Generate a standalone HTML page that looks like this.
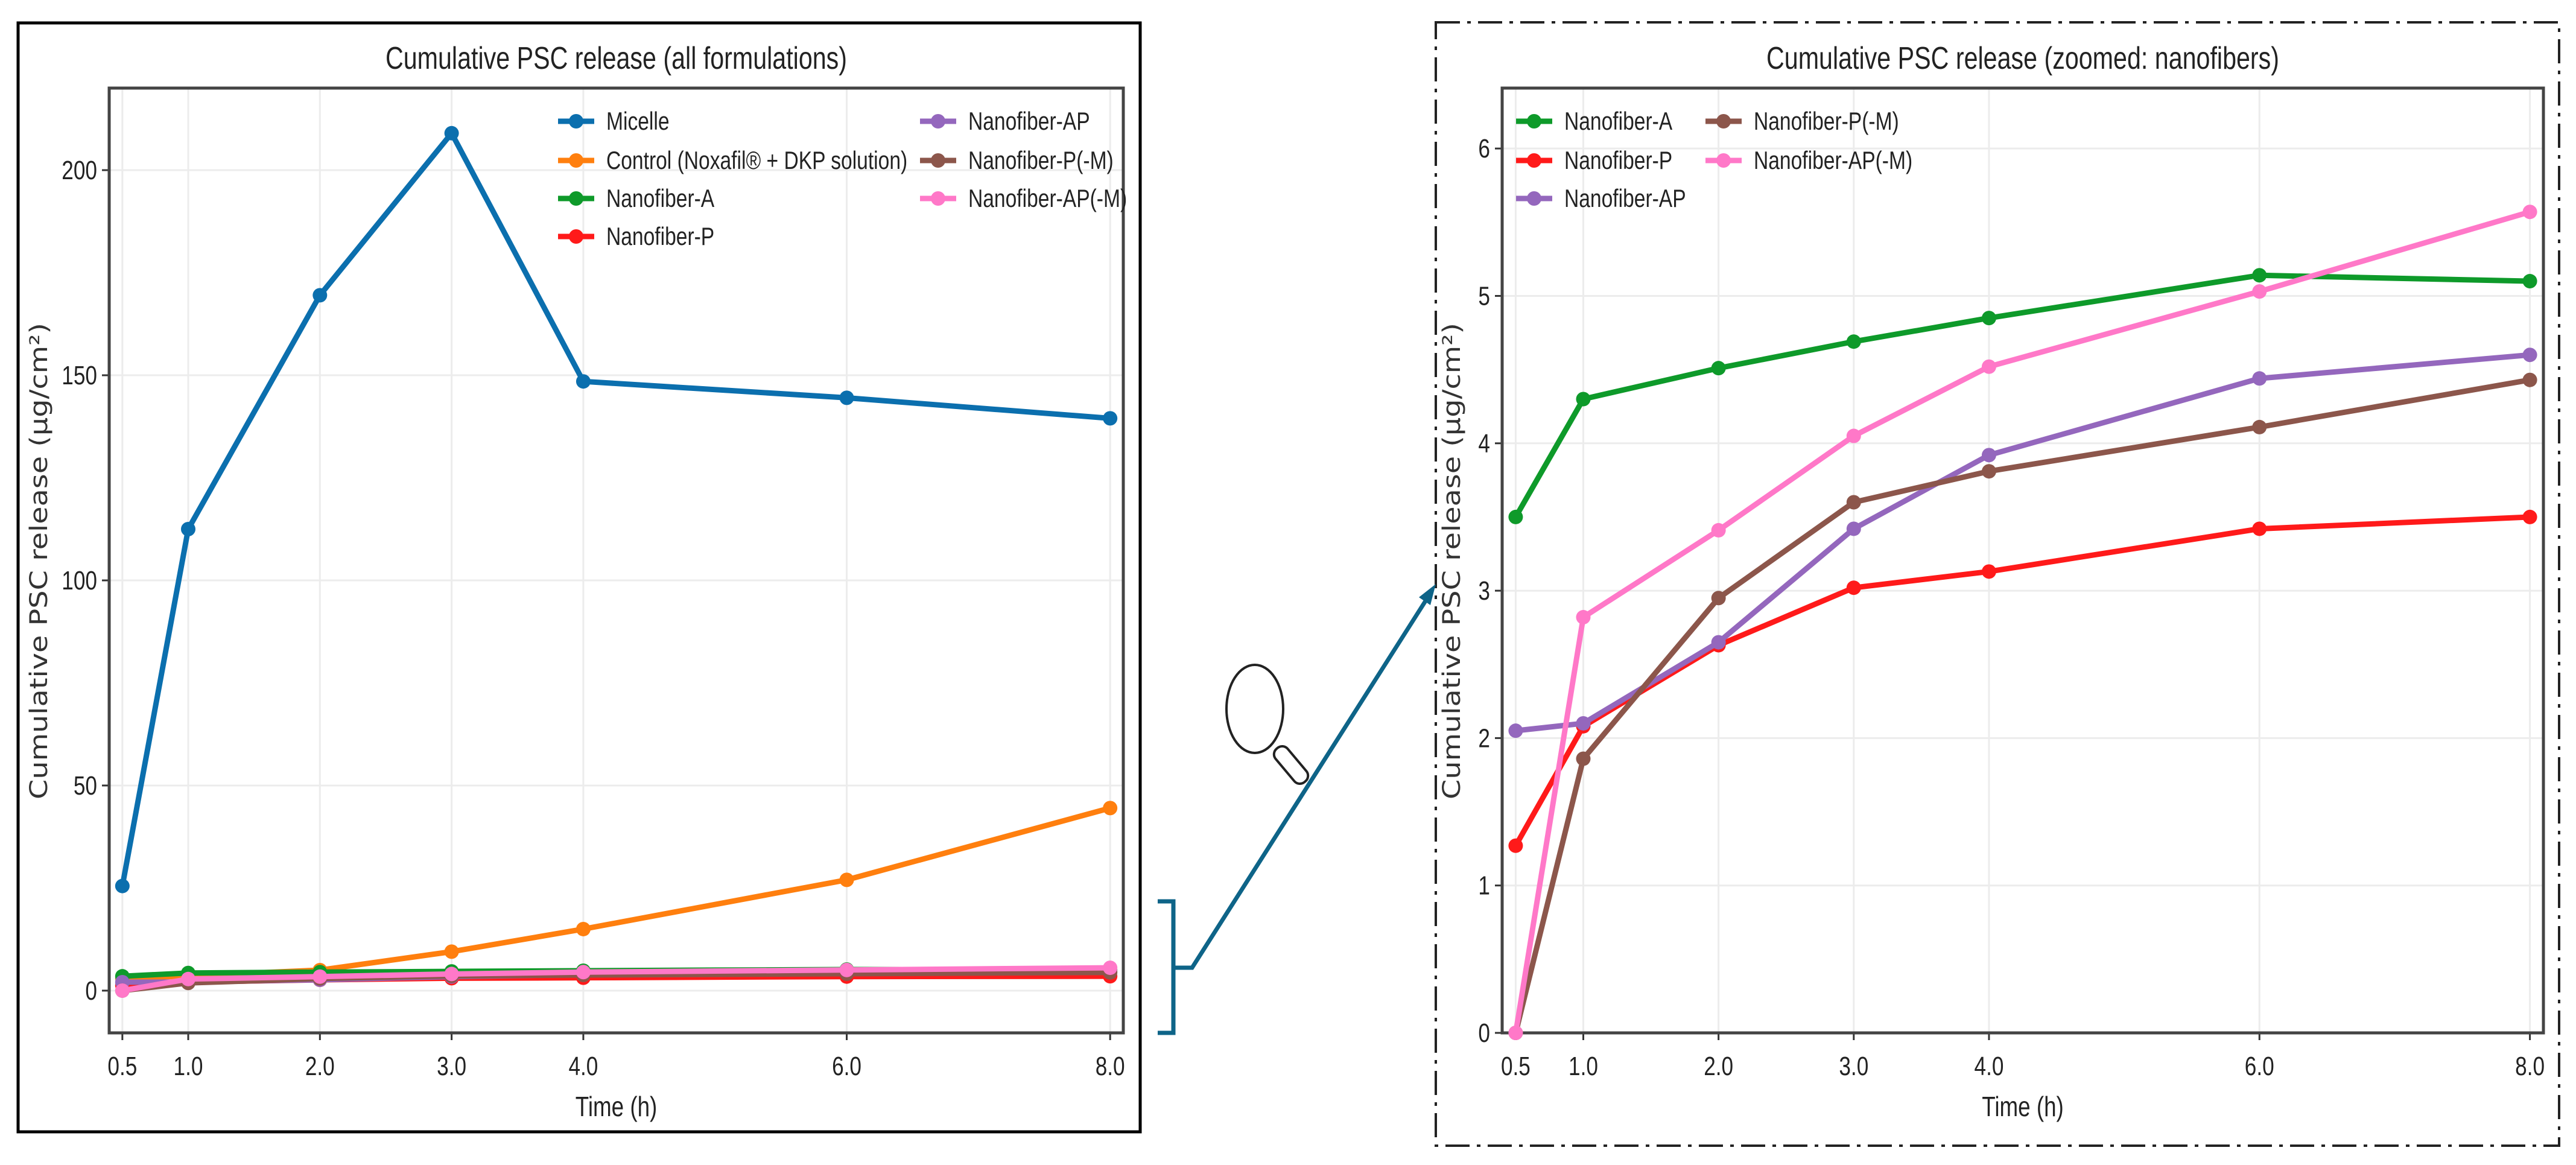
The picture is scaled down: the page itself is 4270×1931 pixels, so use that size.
<!DOCTYPE html>
<html><head><meta charset="utf-8"><style>
html,body{margin:0;padding:0;background:#fff;}
svg{display:block;}
text{font-family:"Liberation Sans Narrow","Liberation Sans",sans-serif;fill:#222;}
</style></head><body>
<svg id="fig" width="4270" height="1931" viewBox="0 0 4270 1931" xmlns="http://www.w3.org/2000/svg">
<rect x="0" y="0" width="4270" height="1931" fill="#fff"/>
<rect x="30" y="38" width="1860" height="1838" fill="none" stroke="#000" stroke-width="5"/>
<rect x="2380" y="37" width="1862" height="1862" fill="none" stroke="#222" stroke-width="4" stroke-dasharray="40,12,6,12"/>
<g id="left"></g>
<g id="right"></g>
<path d="M1919,1494 L1945,1494 L1945,1712 L1919,1712 M1945,1604 L1976,1604 L2370,985" fill="none" stroke="#0e6488" stroke-width="7"/>
<polygon points="2380,968 2352,990 2371,1003" fill="#0e6488"/>
<g>
<ellipse cx="2080" cy="1175" rx="47" ry="73" fill="none" stroke="#222" stroke-width="4"/>
<g transform="translate(2140,1268) rotate(50)"><rect x="-36" y="-13" width="72" height="26" rx="12" fill="none" stroke="#222" stroke-width="4"/></g>
</g>
</svg>
<script>
const xTimes=[0.5,1,2,3,4,6,8];
const xTickLabels=["0.5","1.0","2.0","3.0","4.0","6.0","8.0"];
const micelle=[25.5,112.5,169.5,209,148.5,144.5,139.5];
const control=[3,3.6,5,9.5,15,27,44.5];
const nfA=[3.5,4.3,4.51,4.69,4.85,5.14,5.1];
const nfP=[1.27,2.08,2.63,3.02,3.13,3.42,3.5];
const nfAP=[2.05,2.1,2.65,3.42,3.92,4.44,4.6];
const nfPM=[0,1.86,2.95,3.6,3.81,4.11,4.43];
const nfAPM=[0,2.82,3.41,4.05,4.52,5.03,5.57];
const leftYTicks=[0,50,100,150,200];
const rightYTicks=[0,1,2,3,4,5,6];
const NS="http://www.w3.org/2000/svg";
const SQ=0.8;
function mk(parent,tag,attrs,txt){const e=document.createElementNS(NS,tag);for(const k in attrs)e.setAttribute(k,attrs[k]);if(txt!==undefined)e.textContent=txt;parent.appendChild(e);return e;}
function ntext(parent,x,y,size,anchor,txt){return mk(parent,'text',{x:0,y:0,'text-anchor':anchor,'font-size':size,transform:`translate(${x},${y}) scale(${SQ},1)`},txt);}
function chart(g,cfg){
  const sx=v=>cfg.x0+(v-cfg.xmin)/(cfg.xmax-cfg.xmin)*(cfg.x1-cfg.x0);
  const sy=v=>cfg.y1-(v-cfg.ymin)/(cfg.ymax-cfg.ymin)*(cfg.y1-cfg.y0);
  xTimes.forEach((t,i)=>{
    const gl=mk(g,'line',{x1:sx(t),x2:sx(t),y1:cfg.y0,y2:cfg.y1,stroke:'#ececec','stroke-width':3});
    
    
    mk(g,'line',{x1:sx(t),x2:sx(t),y1:cfg.y1,y2:cfg.y1+12,stroke:'#333','stroke-width':3});
    const tl=ntext(g,sx(t),cfg.y1+70,44,'middle',xTickLabels[i]);
    
    
  });
  cfg.yticks.forEach(v=>{
    const gl=mk(g,'line',{x1:cfg.x0,x2:cfg.x1,y1:sy(v),y2:sy(v),stroke:'#ececec','stroke-width':3});
    
    
    mk(g,'line',{x1:cfg.x0-12,x2:cfg.x0,y1:sy(v),y2:sy(v),stroke:'#333','stroke-width':3});
    const tl=ntext(g,cfg.x0-20,sy(v)+15,44,'end',String(v));
    
    
  });
  const fr=mk(g,'rect',{x:cfg.x0,y:cfg.y0,width:cfg.x1-cfg.x0,height:cfg.y1-cfg.y0,fill:'none',stroke:'#444','stroke-width':5});
  
  
  cfg.series.forEach(s=>{
    const sg=mk(g,'g',{});
    
    
    mk(sg,'polyline',{points:s.data.map((v,i)=>sx(xTimes[i])+','+sy(v)).join(' '),fill:'none',stroke:s.color,'stroke-width':9,'stroke-linejoin':'round'});
    s.data.forEach((v,i)=>{
      const c=mk(sg,'circle',{cx:sx(xTimes[i]),cy:sy(v),r:12,fill:s.color});
      
      
    });
  });
  const t=mk(g,'text',{x:(cfg.x0+cfg.x1)/2,y:114,'text-anchor':'middle','font-size':52,textLength:cfg.titleLen,lengthAdjust:'spacingAndGlyphs'},cfg.title);
  
  
  const xl=ntext(g,(cfg.x0+cfg.x1)/2,1850,46,'middle','Time (h)');
  
  
  const yl=mk(g,'text',{x:0,y:0,'text-anchor':'middle','font-size':40,textLength:790,lengthAdjust:'spacingAndGlyphs',transform:`translate(${cfg.ylx},930) rotate(-90)`,style:'font-family:"DejaVu Sans",sans-serif;fill:#333'},'Cumulative PSC release (µg/cm²)');
  
  
  const lg=mk(g,'g',{});
  
  
  cfg.legend.forEach(L=>{
    const s=cfg.series.find(q=>q.key===L.key);
    const eg=mk(lg,'g',{});
    
    
    mk(eg,'line',{x1:L.x,x2:L.x+60,y1:L.y,y2:L.y,stroke:s.color,'stroke-width':9});
    mk(eg,'circle',{cx:L.x+30,cy:L.y,r:12,fill:s.color});
    ntext(eg,L.x+80,L.y+14,42,'start',s.label);
  });
}
const C={blue:'#0b6fae',orange:'#ff7f0e',green:'#0e9a2a',red:'#ff1a1a',purple:'#9467bd',brown:'#8c564b',pink:'#ff78c8'};
chart(document.getElementById('left'),{
  x0:181,x1:1862,y0:146,y1:1712,xmin:0.4,xmax:8.1,ymin:-10.3,ymax:220,
  yticks:leftYTicks,title:'Cumulative PSC release (all formulations)',titleLen:765,ylx:78,
  series:[
    {key:'micelle',label:'Micelle',data:micelle,color:C.blue},
    {key:'control',label:'Control (Noxafil® + DKP solution)',data:control,color:C.orange},
    {key:'nanofiber-a',label:'Nanofiber-A',data:nfA,color:C.green},
    {key:'nanofiber-p',label:'Nanofiber-P',data:nfP,color:C.red},
    {key:'nanofiber-ap',label:'Nanofiber-AP',data:nfAP,color:C.purple},
    {key:'nanofiber-p-m',label:'Nanofiber-P(-M)',data:nfPM,color:C.brown},
    {key:'nanofiber-ap-m',label:'Nanofiber-AP(-M)',data:nfAPM,color:C.pink}
  ],
  legend:[{key:'micelle',x:925,y:201},{key:'control',x:925,y:266},{key:'nanofiber-a',x:925,y:329},{key:'nanofiber-p',x:925,y:392},
          {key:'nanofiber-ap',x:1525,y:201},{key:'nanofiber-p-m',x:1525,y:266},{key:'nanofiber-ap-m',x:1525,y:329}]
});
chart(document.getElementById('right'),{
  x0:2490,x1:4216,y0:146,y1:1712,xmin:0.4,xmax:8.1,ymin:0,ymax:6.41,
  yticks:rightYTicks,title:'Cumulative PSC release (zoomed: nanofibers)',titleLen:850,ylx:2420,
  series:[
    {key:'nanofiber-a',label:'Nanofiber-A',data:nfA,color:C.green},
    {key:'nanofiber-p',label:'Nanofiber-P',data:nfP,color:C.red},
    {key:'nanofiber-ap',label:'Nanofiber-AP',data:nfAP,color:C.purple},
    {key:'nanofiber-p-m',label:'Nanofiber-P(-M)',data:nfPM,color:C.brown},
    {key:'nanofiber-ap-m',label:'Nanofiber-AP(-M)',data:nfAPM,color:C.pink}
  ],
  legend:[{key:'nanofiber-a',x:2513,y:201},{key:'nanofiber-p',x:2513,y:266},{key:'nanofiber-ap',x:2513,y:329},
          {key:'nanofiber-p-m',x:2827,y:201},{key:'nanofiber-ap-m',x:2827,y:266}]
});
</script>
</body></html>
